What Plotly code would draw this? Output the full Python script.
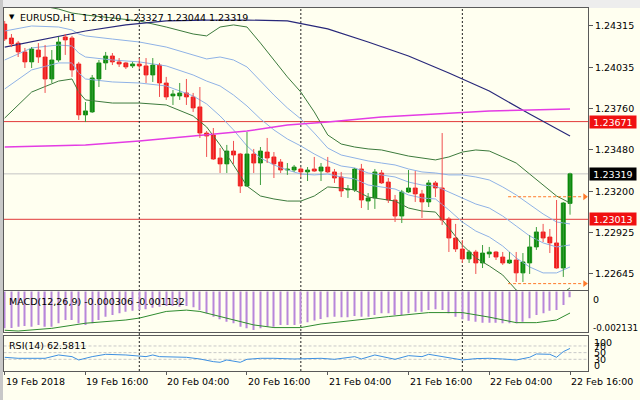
import plotly.graph_objects as go

W, H = 640, 400

# ---------------- data ----------------
SYMBOL = "EURUSD,H1"
TIME_TICK_IDX = [0, 12, 24, 36, 48, 60, 72, 84]
TIME_TICK_TEXT = ["19 Feb 2018", "19 Feb 16:00", "20 Feb 04:00", "20 Feb 16:00",
                  "21 Feb 04:00", "21 Feb 16:00", "22 Feb 04:00", "22 Feb 16:00"]
DAY_SEPARATORS = [20, 44, 68]

OPEN = [1.24328, 1.24234, 1.24200, 1.24140, 1.24073, 1.24153, 1.24106, 1.23958, 1.24086, 1.24241,
        1.24234, 1.24059, 1.23716, 1.23736, 1.23958, 1.24066, 1.24113, 1.24073, 1.24066, 1.24046,
        1.24059, 1.24046, 1.23985, 1.24052, 1.23931, 1.23844, 1.23844, 1.23864, 1.23837, 1.23770,
        1.23594, 1.23581, 1.23426, 1.23386, 1.23473, 1.23453, 1.23237, 1.23453, 1.23392, 1.23466,
        1.23433, 1.23399, 1.23345, 1.23345, 1.23352, 1.23332, 1.23352, 1.23338, 1.23365, 1.23332,
        1.23298, 1.23211, 1.23211, 1.23352, 1.23136, 1.23157, 1.23325, 1.23264, 1.23143, 1.23035,
        1.23197, 1.23224, 1.23184, 1.23130, 1.23258, 1.23224, 1.23015, 1.22887, 1.22813, 1.22746,
        1.22793, 1.22719, 1.22780, 1.22793, 1.22759, 1.22719, 1.22739, 1.22652, 1.22719, 1.22827,
        1.22928, 1.22894, 1.22854, 1.22685, 1.23120]
HIGH = [1.24349, 1.24261, 1.24214, 1.24167, 1.24173, 1.24200, 1.24187, 1.24153, 1.24241, 1.24261,
        1.24248, 1.24073, 1.23803, 1.23985, 1.24086, 1.24140, 1.24133, 1.24099, 1.24073, 1.24073,
        1.24099, 1.24099, 1.24099, 1.24066, 1.23972, 1.23884, 1.23931, 1.23958, 1.23864, 1.23904,
        1.23608, 1.23628, 1.23493, 1.23514, 1.23541, 1.23460, 1.23601, 1.23487, 1.23500, 1.23561,
        1.23466, 1.23419, 1.23392, 1.23379, 1.23365, 1.23365, 1.23433, 1.23392, 1.23433, 1.23352,
        1.23332, 1.23244, 1.23359, 1.23386, 1.23190, 1.23352, 1.23345, 1.23291, 1.23177, 1.23211,
        1.23345, 1.23338, 1.23211, 1.23278, 1.23271, 1.23594, 1.23029, 1.22982, 1.22874, 1.22807,
        1.22807, 1.22840, 1.22827, 1.22800, 1.22793, 1.22793, 1.22793, 1.22786, 1.22907, 1.22961,
        1.22982, 1.22948, 1.23143, 1.23130, 1.23327]
LOW = [1.24214, 1.24173, 1.24106, 1.24032, 1.24032, 1.24066, 1.23864, 1.23931, 1.24073, 1.24120,
       1.23972, 1.23682, 1.23668, 1.23729, 1.23904, 1.24019, 1.24052, 1.24039, 1.24025, 1.24032,
       1.24025, 1.23931, 1.23938, 1.23837, 1.23817, 1.23783, 1.23817, 1.23783, 1.23736, 1.23561,
       1.23433, 1.23413, 1.23325, 1.23325, 1.23386, 1.23190, 1.23231, 1.23325, 1.23244, 1.23392,
       1.23291, 1.23325, 1.23312, 1.23332, 1.23298, 1.23271, 1.23332, 1.23271, 1.23325, 1.23258,
       1.23163, 1.23157, 1.23197, 1.23089, 1.23076, 1.23083, 1.23251, 1.23123, 1.22995, 1.22988,
       1.23190, 1.23130, 1.23022, 1.23096, 1.23163, 1.22975, 1.22793, 1.22793, 1.22719, 1.22719,
       1.22645, 1.22685, 1.22753, 1.22739, 1.22706, 1.22712, 1.22591, 1.22591, 1.22645, 1.22807,
       1.22860, 1.22786, 1.22680, 1.22625, 1.23044]
CLOSE = [1.24227, 1.24194, 1.24140, 1.24073, 1.24160, 1.24106, 1.23958, 1.24086, 1.24207, 1.24221,
         1.24019, 1.23716, 1.23743, 1.23965, 1.24066, 1.24113, 1.24073, 1.24059, 1.24039, 1.24059,
         1.24046, 1.23985, 1.24052, 1.23931, 1.23837, 1.23857, 1.23864, 1.23837, 1.23763, 1.23594,
         1.23574, 1.23419, 1.23386, 1.23473, 1.23446, 1.23237, 1.23453, 1.23392, 1.23473, 1.23426,
         1.23386, 1.23345, 1.23352, 1.23365, 1.23332, 1.23345, 1.23338, 1.23365, 1.23332, 1.23291,
         1.23204, 1.23217, 1.23352, 1.23143, 1.23157, 1.23332, 1.23258, 1.23143, 1.23035, 1.23197,
         1.23224, 1.23184, 1.23130, 1.23258, 1.23224, 1.23008, 1.22887, 1.22813, 1.22746, 1.22793,
         1.22719, 1.22786, 1.22793, 1.22759, 1.22719, 1.22739, 1.22652, 1.22726, 1.22827, 1.22928,
         1.22887, 1.22854, 1.22685, 1.23123, 1.23319]

# Bollinger bands (20): +-2 dev (green) and +-1 dev / middle (light blue)
BB_IDX = [0, 4, 8, 10, 11, 12, 16, 20, 24, 28, 30, 32, 34, 36, 38, 40, 42, 44, 46, 48,
          50, 52, 54, 56, 58, 60, 62, 64, 66, 68, 70, 72, 74, 76, 78, 80, 82, 84]
BB_UP2 = [1.24477, 1.24463, 1.24429, 1.24402, 1.24396, 1.24389, 1.24369, 1.24349, 1.24308, 1.24261,
          1.24248, 1.24308, 1.24322, 1.24308, 1.24200, 1.24086, 1.23972, 1.23870, 1.23736, 1.23581,
          1.23520, 1.23500, 1.23487, 1.23480, 1.23460, 1.23439, 1.23426, 1.23413, 1.23433, 1.23466,
          1.23480, 1.23473, 1.23433, 1.23392, 1.23318, 1.23244, 1.23170, 1.23123]
BB_UP1 = [1.24281, 1.24315, 1.24308, 1.24288, 1.24261, 1.24248, 1.24227, 1.24207, 1.24173, 1.24120,
          1.24093, 1.24106, 1.24086, 1.24039, 1.23944, 1.23850, 1.23763, 1.23689, 1.23594, 1.23493,
          1.23446, 1.23426, 1.23406, 1.23392, 1.23379, 1.23352, 1.23332, 1.23325, 1.23312, 1.23312,
          1.23298, 1.23278, 1.23231, 1.23177, 1.23110, 1.23049, 1.22995, 1.22982]
BB_MID = [1.24086, 1.24167, 1.24187, 1.24180, 1.24133, 1.24106, 1.24086, 1.24073, 1.24046, 1.23985,
          1.23944, 1.23911, 1.23850, 1.23776, 1.23689, 1.23615, 1.23554, 1.23507, 1.23453, 1.23406,
          1.23372, 1.23359, 1.23325, 1.23312, 1.23298, 1.23264, 1.23244, 1.23237, 1.23197, 1.23157,
          1.23116, 1.23089, 1.23035, 1.22968, 1.22901, 1.22854, 1.22827, 1.22840]
BB_LO1 = [1.23891, 1.24019, 1.24066, 1.24066, 1.23998, 1.23958, 1.23938, 1.23931, 1.23911, 1.23844,
          1.23790, 1.23709, 1.23615, 1.23507, 1.23426, 1.23379, 1.23345, 1.23318, 1.23312, 1.23318,
          1.23298, 1.23285, 1.23244, 1.23231, 1.23217, 1.23177, 1.23157, 1.23150, 1.23076, 1.22995,
          1.22934, 1.22894, 1.22833, 1.22753, 1.22692, 1.22652, 1.22652, 1.22692]
BB_LO2 = [1.23695, 1.23870, 1.23944, 1.23958, 1.23870, 1.23817, 1.23796, 1.23796, 1.23783, 1.23709,
          1.23635, 1.23514, 1.23379, 1.23237, 1.23170, 1.23150, 1.23136, 1.23136, 1.23170, 1.23231,
          1.23224, 1.23211, 1.23163, 1.23150, 1.23136, 1.23089, 1.23069, 1.23062, 1.22955, 1.22840,
          1.22753, 1.22699, 1.22638, 1.22537, 1.22483, 1.22456, 1.22483, 1.22551]

# slow moving average (navy) and medium moving average (magenta)
MA_SLOW_IDX = [0, 6, 12, 18, 24, 30, 36, 42, 48, 54, 60, 66, 72, 78, 84]
MA_SLOW = [1.24173, 1.24227, 1.24281, 1.24322, 1.24349, 1.24355, 1.24355, 1.24349, 1.24295,
           1.24207, 1.24113, 1.23998, 1.23877, 1.23722, 1.23574]
MA_MID_IDX = [0, 12, 20, 30, 36, 42, 48, 56, 64, 72, 78, 84]
MA_MID = [1.23500, 1.23514, 1.23541, 1.23581, 1.23608, 1.23648, 1.23668, 1.23702, 1.23722,
          1.23743, 1.23749, 1.23756]

# MACD(12,26,9): main (histogram) and signal
MACD_MAIN = [-0.001937, -0.001921, -0.001853, -0.001816, -0.001853, -0.001763, -0.001853, -0.001853, -0.001674, -0.001500,
             -0.001500, -0.001674, -0.001763, -0.001674, -0.001500, -0.001326, -0.001237, -0.001147, -0.001063, -0.001010,
             -0.000974, -0.000937, -0.000853, -0.000800, -0.000763, -0.000763, -0.000800, -0.000763, -0.000832, -0.000974,
             -0.001147, -0.001326, -0.001463, -0.001589, -0.001674, -0.001853, -0.001937, -0.002026, -0.001937, -0.001853,
             -0.001853, -0.001763, -0.001763, -0.001763, -0.001700, -0.001620, -0.001530, -0.001450, -0.001358, -0.001326,
             -0.001358, -0.001358, -0.001289, -0.001326, -0.001326, -0.001237, -0.001147, -0.001147, -0.001237, -0.001237,
             -0.001147, -0.001063, -0.001063, -0.000974, -0.000937, -0.000974, -0.001147, -0.001326, -0.001463, -0.001537,
             -0.001589, -0.001642, -0.001642, -0.001642, -0.001674, -0.001674, -0.001674, -0.001589, -0.001411, -0.001237,
             -0.001147, -0.001010, -0.000974, -0.000711, -0.000306]
MACD_SIG_IDX = [0, 2, 7, 12, 18, 20, 24, 27, 29, 33, 37, 40, 44, 47, 52, 57, 63, 68, 72, 76, 79, 82, 84]
MACD_SIG = [-0.00204, -0.00208, -0.00194, -0.00167, -0.00150, -0.00140, -0.00105, -0.00098, -0.00105,
            -0.00140, -0.00176, -0.00190, -0.00190, -0.00171, -0.00150, -0.00132, -0.00111, -0.00111,
            -0.00135, -0.00164, -0.00164, -0.00150, -0.001132]
MACD_MIN_LABEL = "-0.002131"

# RSI(14)
RSI_IDX = [0, 2, 6, 8, 10, 11, 13, 15, 18, 21, 22, 23, 27, 29, 31, 32, 33, 35, 36, 38, 40, 43, 47,
           49, 52, 53, 55, 57, 58, 60, 62, 63, 65, 67, 68, 70, 72, 74, 76, 78, 79, 81, 82, 83, 84]
RSI_VAL = [36, 33, 33, 43, 38, 28, 38, 45, 43, 38, 43, 38, 36, 31, 23, 21, 28, 21, 30, 33, 33, 31, 33,
           30, 38, 31, 43, 33, 30, 41, 38, 45, 38, 33, 28, 32, 33, 31, 28, 36, 46, 45, 36, 53, 62.5811]
RSI_LEVELS = [70, 50, 30]

# horizontal levels
RED_LEVELS = [1.23671, 1.23013]
BID = 1.23319
ORDER_LEVELS = [1.23165, 1.22580]
ORDER_FROM, ORDER_TO = 74.8, 85.9
PRICE_TICKS = [1.24315, 1.24035, 1.23760, 1.23480, 1.23200, 1.22925, 1.22645]

# ---------------- styling / layout helpers ----------------
BG = "#FFFFF0"
FRAME = "#5a5a5a"
FONT = "DejaVu Sans"
FS = 9.5
GREEN_C = "#0A8A0A"
RED_C = "#F01818"


def px_x(p):
    return p / W


def px_y(p):
    return 1 - p / H


XL, XR = 3.5, 588.0
XRANGE = [-0.18, 86.67]

fig = go.Figure()

# Bollinger / MAs
for arr, col, wd in [(BB_UP2, "#3C7A3C", 1), (BB_LO2, "#3C7A3C", 1),
                     (BB_UP1, "#8FB2E6", 1), (BB_MID, "#8FB2E6", 1), (BB_LO1, "#8FB2E6", 1)]:
    fig.add_trace(go.Scatter(x=BB_IDX, y=arr, mode="lines", line=dict(color=col, width=wd),
                             hoverinfo="skip", xaxis="x", yaxis="y"))
fig.add_trace(go.Scatter(x=MA_SLOW_IDX, y=MA_SLOW, mode="lines", line=dict(color="#28287A", width=1.2),
                         hoverinfo="skip", xaxis="x", yaxis="y"))
fig.add_trace(go.Scatter(x=MA_MID_IDX, y=MA_MID, mode="lines", line=dict(color="#E43CE4", width=1.5),
                         hoverinfo="skip", xaxis="x", yaxis="y"))

# candles
idx = list(range(len(OPEN)))
for bull, col, wick in [(True, GREEN_C, "#3E9E3E"), (False, RED_C, "#F05050")]:
    sel = [i for i in idx if (CLOSE[i] >= OPEN[i]) == bull]
    wx, wy = [], []
    for i in sel:
        wx += [i, i, None]
        wy += [LOW[i], HIGH[i], None]
    fig.add_trace(go.Scatter(x=wx, y=wy, mode="lines", line=dict(color=wick, width=1),
                             hoverinfo="skip", xaxis="x", yaxis="y"))
    fig.add_trace(go.Bar(x=sel, y=[abs(CLOSE[i] - OPEN[i]) for i in sel],
                         base=[min(OPEN[i], CLOSE[i]) for i in sel], width=0.6,
                         marker=dict(color=col, line=dict(color=col, width=0.8)),
                         hoverinfo="skip", xaxis="x", yaxis="y"))

# order level dashed arrows
for lv in ORDER_LEVELS:
    fig.add_trace(go.Scatter(x=[ORDER_FROM, ORDER_TO], y=[lv, lv], mode="lines",
                             line=dict(color="#FF7A2A", width=1, dash="3px,2px"),
                             hoverinfo="skip", xaxis="x", yaxis="y", cliponaxis=False))
    fig.add_trace(go.Scatter(x=[ORDER_TO + 0.3], y=[lv], mode="markers",
                             marker=dict(symbol="triangle-right", size=6, color="#FF7A2A"),
                             hoverinfo="skip", xaxis="x", yaxis="y", cliponaxis=False))

# MACD
fig.add_trace(go.Bar(x=idx, y=MACD_MAIN, width=0.18, marker=dict(color="#B886DA", line=dict(width=0)),
                     hoverinfo="skip", xaxis="x2", yaxis="y2"))
fig.add_trace(go.Scatter(x=MACD_SIG_IDX, y=MACD_SIG, mode="lines", line=dict(color="#2E8B2E", width=1),
                         hoverinfo="skip", xaxis="x2", yaxis="y2"))

# RSI
fig.add_trace(go.Scatter(x=RSI_IDX, y=RSI_VAL, mode="lines", line=dict(color="#3D8FE0", width=1),
                         hoverinfo="skip", xaxis="x3", yaxis="y3"))

shapes = []
# outer frame bands
shapes.append(dict(type="rect", xref="paper", yref="paper", x0=0, x1=1, y0=px_y(8), y1=1,
                   fillcolor="#EDEDED", line=dict(width=0), layer="below"))
shapes.append(dict(type="rect", xref="paper", yref="paper", x0=0, x1=px_x(3), y0=0, y1=1,
                   fillcolor="#C8C8C8", line=dict(width=0), layer="below"))
# red levels and bid line
for lv in RED_LEVELS:
    shapes.append(dict(type="line", xref="paper", yref="y", x0=px_x(XL), x1=px_x(XR), y0=lv, y1=lv,
                       line=dict(color="#E23A3A", width=1), layer="below"))
shapes.append(dict(type="line", xref="paper", yref="y", x0=px_x(XL), x1=px_x(XR), y0=BID, y1=BID,
                   line=dict(color="#C4C4C4", width=1), layer="below"))
# RSI levels
for lv in RSI_LEVELS:
    shapes.append(dict(type="line", xref="paper", yref="y3", x0=px_x(XL), x1=px_x(XR), y0=lv, y1=lv,
                       line=dict(color="#C8C8C8", width=1, dash="3px,2px"), layer="below"))
# day separators
for d in DAY_SEPARATORS:
    shapes.append(dict(type="line", xref="x", yref="paper", x0=d, x1=d, y0=px_y(371), y1=px_y(8),
                       line=dict(color="#222222", width=1, dash="2px,2px"), layer="below"))

ann = []
# title
ann.append(dict(xref="paper", yref="paper", x=px_x(7), y=px_y(17.5), xanchor="left", yanchor="middle",
                text="▼", showarrow=False, font=dict(family=FONT, size=7, color="#000")))
ann.append(dict(xref="paper", yref="paper", x=px_x(18), y=px_y(17.5), xanchor="left", yanchor="middle",
                text=f"{SYMBOL}  {OPEN[-1]:.5f} {HIGH[-1]:.5f} {LOW[-1]:.5f} {CLOSE[-1]:.5f}",
                showarrow=False, font=dict(family=FONT, size=FS, color="#000")))
ann.append(dict(xref="paper", yref="paper", x=px_x(7), y=px_y(301.5), xanchor="left", yanchor="middle",
                text=f"MACD(12,26,9) {MACD_MAIN[-1]:.6f} {MACD_SIG[-1]:.6f}",
                showarrow=False, font=dict(family=FONT, size=FS, color="#000")))
ann.append(dict(xref="paper", yref="paper", x=px_x(7), y=px_y(345), xanchor="left", yanchor="middle",
                text=f"RSI(14) {RSI_VAL[-1]:.4f}",
                showarrow=False, font=dict(family=FONT, size=FS, color="#000")))
# MACD scale labels
for t, yy, fs in [("0", 299.5, FS), (MACD_MIN_LABEL, 327.5, 8.8)]:
    ann.append(dict(xref="paper", yref="paper", x=px_x(591), y=px_y(yy), xanchor="left", yanchor="middle",
                    text=t, showarrow=False, font=dict(family=FONT, size=fs, color="#000")))
# RSI scale labels
for t, yy in [("100", 342), ("70", 346.7), ("50", 352.7), ("30", 359.3), ("0", 365)]:
    ann.append(dict(xref="paper", yref="paper", x=px_x(592), y=px_y(yy), xanchor="left", yanchor="middle",
                    text=t, showarrow=False, font=dict(family=FONT, size=FS, color="#000")))
# time labels
for i, t in zip(TIME_TICK_IDX, TIME_TICK_TEXT):
    ann.append(dict(xref="x3", yref="paper", x=i, y=px_y(381), xanchor="left", yanchor="middle",
                    xshift=-1, text=t, showarrow=False, font=dict(family=FONT, size=FS, color="#000")))
# price boxes
for lv, bg in [(RED_LEVELS[0], "#F01010"), (RED_LEVELS[1], "#F01010"), (BID, "#000000")]:
    ann.append(dict(xref="paper", yref="y", x=px_x(589), y=lv, xanchor="left", yanchor="middle",
                    text=f"{lv:.5f}", showarrow=False, bgcolor=bg, width=46, height=12, borderpad=0,
                    align="center", font=dict(family=FONT, size=FS, color="#FFFFFF")))

axis_common = dict(range=XRANGE, domain=[px_x(XL), px_x(XR)], showgrid=False, zeroline=False,
                   showline=True, mirror=True, linecolor=FRAME, linewidth=1, fixedrange=True)

fig.update_layout(
    width=W, height=H, margin=dict(l=0, r=0, t=0, b=0),
    paper_bgcolor=BG, plot_bgcolor=BG, showlegend=False, barmode="overlay",
    xaxis=dict(**axis_common, anchor="y", showticklabels=False, ticks="",
               rangeslider=dict(visible=False)),
    xaxis2=dict(**axis_common, anchor="y2", showticklabels=False, ticks=""),
    xaxis3=dict(**axis_common, anchor="y3", showticklabels=False, ticks="outside",
                tickvals=TIME_TICK_IDX, ticklen=3, tickcolor=FRAME),
    yaxis=dict(domain=[px_y(290), px_y(8)], range=[1.22537, 1.24436], side="right",
               tickvals=PRICE_TICKS, ticktext=[f"{v:.5f}" for v in PRICE_TICKS],
               ticks="outside", ticklen=4, tickcolor=FRAME,
               tickfont=dict(family=FONT, size=FS, color="#000"),
               showgrid=False, zeroline=False, showline=True, mirror=True,
               linecolor=FRAME, linewidth=1, anchor="x", fixedrange=True),
    yaxis2=dict(domain=[px_y(332), px_y(291)], range=[-0.002132, 0.000026], side="right",
                showticklabels=False, ticks="", showgrid=False, zeroline=False, showline=True,
                mirror=True, linecolor=FRAME, linewidth=1, anchor="x2", fixedrange=True),
    yaxis3=dict(domain=[px_y(371), px_y(335.5)], range=[-5.1, 101.4], side="right",
                showticklabels=False, ticks="", showgrid=False, zeroline=False, showline=True,
                mirror=True, linecolor=FRAME, linewidth=1, anchor="x3", fixedrange=True),
    shapes=shapes, annotations=ann,
)

fig.write_html("out.html")
